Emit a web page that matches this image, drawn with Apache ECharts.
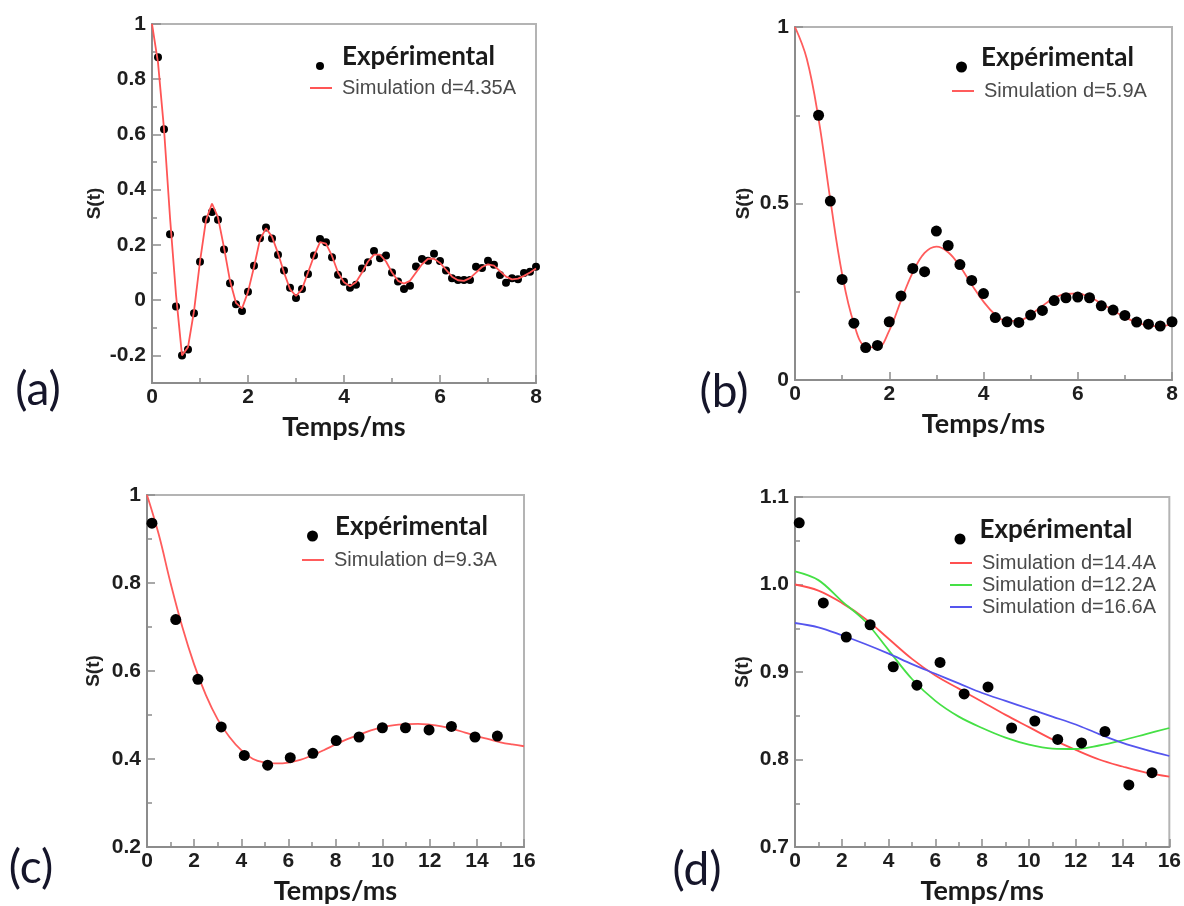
<!DOCTYPE html>
<html>
<head>
<meta charset="utf-8">
<script src="https://cdn.jsdelivr.net/npm/echarts@6/dist/echarts.min.js"></script>
<style>
html,body{margin:0;padding:0;background:#fff;}
#chart{width:1184px;height:906px;}
</style>
</head>
<body>
<div id="chart"></div>
<script>
// ---------- DATA ----------
// Panel (a)
const aExpT = [0.125,0.25,0.375,0.5,0.625,0.75,0.875,1,1.125,1.25,1.375,1.5,1.625,1.75,1.875,2,2.125,2.25,2.375,2.5,2.625,2.75,2.875,3,3.125,3.25,3.375,3.5,3.625,3.75,3.875,4,4.125,4.25,4.375,4.5,4.625,4.75,4.875,5,5.125,5.25,5.375,5.5,5.625,5.75,5.875,6,6.125,6.25,6.375,6.5,6.625,6.75,6.875,7,7.125,7.25,7.375,7.5,7.625,7.75,7.875,8];
const aExpS = [0.88,0.619,0.239,-0.023,-0.2,-0.179,-0.047,0.139,0.292,0.319,0.291,0.183,0.061,-0.015,-0.039,0.030,0.125,0.224,0.263,0.223,0.164,0.107,0.045,0.008,0.04,0.095,0.162,0.221,0.21,0.155,0.092,0.067,0.045,0.056,0.115,0.137,0.178,0.152,0.162,0.1,0.068,0.04,0.052,0.122,0.149,0.143,0.168,0.142,0.107,0.079,0.073,0.073,0.073,0.121,0.116,0.143,0.128,0.091,0.063,0.079,0.076,0.098,0.103,0.121];
const aSimT = [0,0.125,0.25,0.375,0.5,0.625,0.75,0.875,1,1.125,1.25,1.375,1.5,1.625,1.75,1.875,2,2.125,2.25,2.375,2.5,2.625,2.75,2.875,3,3.125,3.25,3.375,3.5,3.625,3.75,3.875,4,4.125,4.25,4.375,4.5,4.625,4.75,4.875,5,5.125,5.25,5.375,5.5,5.625,5.75,5.875,6,6.125,6.25,6.375,6.5,6.625,6.75,6.875,7,7.125,7.25,7.375,7.5,7.625,7.75,7.875,8];
const aSimS = [1.0,0.86,0.62,0.30,0.02,-0.2,-0.17,-0.04,0.14,0.29,0.35,0.30,0.19,0.07,-0.01,-0.03,0.03,0.12,0.22,0.26,0.23,0.17,0.10,0.04,0.015,0.04,0.10,0.16,0.21,0.205,0.16,0.10,0.065,0.05,0.065,0.10,0.14,0.165,0.165,0.14,0.10,0.07,0.06,0.07,0.10,0.13,0.15,0.15,0.135,0.11,0.085,0.072,0.07,0.08,0.10,0.12,0.13,0.125,0.105,0.085,0.075,0.078,0.088,0.10,0.115];
const aSimName = 'Simulation d=4.35A';

// Panel (b)
const bExpT = [0.5,0.75,1,1.25,1.5,1.75,2,2.25,2.5,2.75,3,3.25,3.5,3.75,4,4.25,4.5,4.75,5,5.25,5.5,5.75,6,6.25,6.5,6.75,7,7.25,7.5,7.75,8];
const bExpS = [0.75,0.507,0.285,0.161,0.092,0.098,0.165,0.238,0.316,0.307,0.422,0.381,0.327,0.282,0.245,0.177,0.165,0.163,0.184,0.197,0.225,0.233,0.235,0.233,0.21,0.198,0.183,0.164,0.158,0.153,0.165];
const bSimT = [0,0.25,0.5,0.75,1,1.25,1.5,1.75,2,2.25,2.5,2.75,3,3.25,3.5,3.75,4,4.25,4.5,4.75,5,5.25,5.5,5.75,6,6.25,6.5,6.75,7,7.25,7.5,7.75,8];
const bSimS = [1.0,0.91,0.74,0.51,0.30,0.16,0.095,0.092,0.14,0.225,0.305,0.36,0.378,0.362,0.322,0.27,0.222,0.185,0.167,0.168,0.185,0.21,0.232,0.244,0.245,0.235,0.217,0.197,0.178,0.163,0.154,0.152,0.158];
const bSimName = 'Simulation d=5.9A';

// Panel (c)
const cExpT = [0.21,1.22,2.16,3.15,4.13,5.12,6.08,7.04,8.03,9.0,9.99,10.97,11.97,12.92,13.92,14.87];
const cExpS = [0.936,0.717,0.581,0.473,0.408,0.386,0.403,0.413,0.442,0.45,0.471,0.471,0.466,0.474,0.45,0.452];
const cSimT = [0,0.5,1,1.5,2,2.5,3,3.5,4,4.5,5,5.5,6,6.5,7,7.5,8,8.5,9,9.5,10,10.5,11,11.5,12,12.5,13,13.5,14,14.5,15,15.5,16];
const cSimS = [1.0,0.91,0.80,0.70,0.615,0.545,0.49,0.45,0.42,0.40,0.392,0.39,0.392,0.398,0.408,0.42,0.433,0.445,0.455,0.465,0.472,0.477,0.479,0.48,0.478,0.474,0.468,0.46,0.452,0.445,0.438,0.433,0.429];
const cSimName = 'Simulation d=9.3A';

// Panel (d)
const dExpT = [0.18,1.21,2.19,3.21,4.2,5.21,6.2,7.23,8.25,9.26,10.25,11.23,12.25,13.25,14.27,15.26];
const dExpS = [1.0705,0.979,0.940,0.954,0.906,0.885,0.911,0.875,0.883,0.836,0.844,0.823,0.819,0.832,0.771,0.785];
const dSimT = [0,1,2,3,4,5,6,7,8,9,10,11,12,13,14,15,16];
const dSimRed = [1.0,0.993,0.979,0.961,0.938,0.915,0.896,0.881,0.866,0.851,0.837,0.823,0.811,0.800,0.792,0.785,0.7805];
const dSimGreen = [1.015,1.005,0.981,0.958,0.925,0.892,0.867,0.849,0.836,0.825,0.817,0.8125,0.812,0.816,0.822,0.829,0.836];
const dSimBlue = [0.956,0.951,0.942,0.932,0.921,0.909,0.898,0.887,0.876,0.867,0.858,0.849,0.840,0.829,0.819,0.811,0.804];
const dSimNames = ['Simulation d=14.4A','Simulation d=12.2A','Simulation d=16.6A'];

const expName = 'Expérimental';
const xTitle = 'Temps/ms';
const yTitle = 'S(t)';
const aMajorY = [-0.2,0,0.2,0.4,0.6,0.8,1];

// ---------- HELPERS ----------
const zip = (t, s) => t.map((v, i) => [v, s[i]]);
const AXC = '#8c8c8c';
const labelFont = {fontFamily:'Liberation Sans, Arial', fontWeight:'bold', fontSize:21, color:'#1e1e1e'};
const xNameStyle = {fontFamily:'Lato', fontWeight:'bold', fontSize:27, color:'#1a1a1a'};
const yNameStyle = {fontFamily:'Liberation Sans, Arial', fontWeight:'bold', fontSize:19, color:'#222'};

function xAxisCfg(gi, max) {
  return {
    gridIndex: gi, type:'value', min:0, max:max, interval:2,
    name: xTitle, nameLocation:'middle', nameGap: 31, nameTextStyle: xNameStyle,
    axisLine:{show:true, onZero:false, lineStyle:{color:AXC, width:2}},
    axisTick:{show:true, inside:true, length:8, lineStyle:{color:AXC, width:1.5}},
    minorTick:{show:true, splitNumber:2, length:5, lineStyle:{color:AXC, width:1.5}},
    splitLine:{show:false},
    axisLabel: Object.assign({margin:4}, labelFont)
  };
}
function yAxisCfg(gi, min, max, interval, gap, fmt) {
  const ax = {
    gridIndex: gi, type:'value', min:min, max:max, interval:interval,
    name: yTitle, nameLocation:'middle', nameRotate:90, nameGap: gap, nameTextStyle: yNameStyle,
    axisLine:{show:true, onZero:false, lineStyle:{color:AXC, width:2}},
    axisTick:{show:true, inside:true, length:8, lineStyle:{color:AXC, width:1.5}},
    minorTick:{show:true, splitNumber:2, length:5, lineStyle:{color:AXC, width:1.5}},
    splitLine:{show:false},
    axisLabel: Object.assign({margin:6}, labelFont)
  };
  if (fmt) ax.axisLabel.formatter = fmt;
  return ax;
}
function expSeries(name, xi, data, size, z) {
  return {name:name, type:'scatter', xAxisIndex:xi, yAxisIndex:xi, data:data,
    symbol:'circle', symbolSize:size, itemStyle:{color:'#000', opacity:1}, z:z};
}
function simSeries(name, xi, yi, data, color, smooth, z) {
  return {name:name, type:'line', xAxisIndex:xi, yAxisIndex:yi, data:data,
    showSymbol:false, symbol:'none', smooth:smooth, color:color,
    lineStyle:{color:color, width:1.8}, z:z};
}
function expLegend(left, top, size, spacer) {
  return {data:[{name:expName, icon:'circle'}], selectedMode:false, orient:'vertical',
    left:left, top:top, padding:0, itemWidth:size, itemHeight:size,
    itemStyle:{opacity:1},
    formatter: n => '{g|}{t|' + n + '}',
    textStyle:{fontFamily:'Lato', fontWeight:'bold', fontSize:26, color:'#1a1a1a',
      rich:{g:{width:spacer}, t:{fontFamily:'Lato', fontWeight:'bold', fontSize:26, color:'#1a1a1a', padding:[0,0,18,0]}}}};
}
function simLegend(names, left, top) {
  return {data:names.map(n => ({name:n, icon:'rect'})), selectedMode:false, orient:'vertical',
    left:left, top:top, padding:0, symbolKeepAspect:false,
    itemWidth:22, itemHeight:2, itemGap:2,
    formatter: n => '{g|}{t|' + n + '}',
    textStyle:{fontFamily:'Liberation Sans, Arial', fontSize:20, color:'#4a4a4a',
      rich:{g:{width:5}, t:{fontFamily:'Liberation Sans, Arial', fontSize:20, color:'#4a4a4a', lineHeight:20}}}};
}
function panelLabel(txt, x, y) {
  return {type:'text', x:x, y:y, silent:true,
    style:{text:txt, align:'center', verticalAlign:'middle', fontFamily:'Lato', fontSize:46, fill:'#15152a'}};
}

// ---------- OPTION ----------
const grids = [
  {left:152, top:24, width:384, height:359},
  {left:795, top:27, width:377, height:353},
  {left:147, top:495, width:377, height:353},
  {left:795, top:497, width:376, height:353}
].map(g => Object.assign({show:true, borderColor:'#b4b4b4', borderWidth:2, backgroundColor:'#fff'}, g));

const yA = yAxisCfg(0, -0.3, 1, 0.1, 48, v => {
  const k = Math.round(v * 10);
  return (k % 2 === 0) ? String(k / 10) : '';
});
yA.minorTick = {show:false};
yA.axisTick.customValues = aMajorY;
yA.axisTick.length = 9;
yA.axisLabel.customValues = aMajorY;
// second (minor-tick) axis for panel (a)
const yAminor = {gridIndex:0, type:'value', min:-0.3, max:1, interval:0.1, position:'left',
  axisLine:{show:false}, axisLabel:{show:false}, splitLine:{show:false},
  axisTick:{show:true, inside:true, length:5, lineStyle:{color:AXC, width:1.5}}};

const option = {
  animation:false,
  backgroundColor:'#fff',
  grid: grids,
  xAxis: [xAxisCfg(0, 8), xAxisCfg(1, 8), xAxisCfg(2, 16), xAxisCfg(3, 16)],
  yAxis: [
    yA,
    yAxisCfg(1, 0, 1, 0.5, 42),
    yAxisCfg(2, 0.2, 1, 0.2, 44),
    yAxisCfg(3, 0.7, 1.1, 0.1, 43, v => v.toFixed(1)),
    yAminor
  ],
  legend: [
    expLegend(316, 44, 8, 13),
    simLegend([aSimName], 310, 78),
    expLegend(956, 45, 11, 9),
    simLegend([bSimName], 952, 81),
    expLegend(307, 514, 11, 12),
    simLegend([cSimName], 302, 550),
    expLegend(954.5, 517, 11, 9),
    simLegend(dSimNames, 950, 553)
  ],
  series: [
    expSeries(expName, 0, zip(aExpT, aExpS), 8, 2),
    simSeries(aSimName, 0, 0, zip(aSimT, aSimS), '#ff5555', false, 3),
    expSeries(expName, 1, zip(bExpT, bExpS), 11, 3),
    simSeries(bSimName, 1, 1, zip(bSimT, bSimS), '#ff5c5c', 0.4, 2),
    expSeries(expName, 2, zip(cExpT, cExpS), 11, 3),
    simSeries(cSimName, 2, 2, zip(cSimT, cSimS), '#ff5c5c', 0.4, 2),
    expSeries(expName, 3, zip(dExpT, dExpS), 11, 3),
    simSeries(dSimNames[0], 3, 3, zip(dSimT, dSimRed), '#ff5050', 0.35, 2),
    simSeries(dSimNames[1], 3, 3, zip(dSimT, dSimGreen), '#45e045', 0.35, 2),
    simSeries(dSimNames[2], 3, 3, zip(dSimT, dSimBlue), '#5555ee', 0.35, 2)
  ],
  graphic: [
    panelLabel('(a)', 38, 390),
    panelLabel('(b)', 724, 392),
    panelLabel('(c)', 31, 868),
    panelLabel('(d)', 697, 870)
  ]
};

const chart = echarts.init(document.getElementById('chart'), null, {renderer:'canvas'});
chart.setOption(option);
</script>
</body>
</html>
